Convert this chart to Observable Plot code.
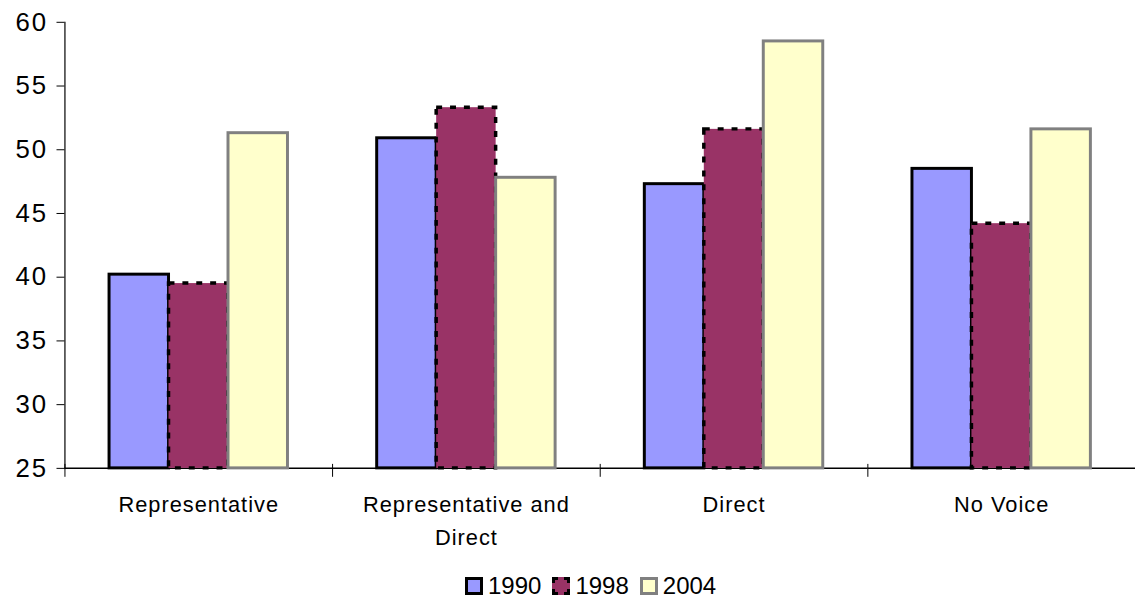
<!DOCTYPE html>
<html>
<head>
<meta charset="utf-8">
<script src="https://cdn.jsdelivr.net/npm/d3@7"></script>
<script src="https://cdn.jsdelivr.net/npm/@observablehq/plot@0.6"></script>
<style>
  html, body { margin: 0; padding: 0; background: #fff; }
  #wrap { width: 1136px; height: 601px; overflow: hidden; position: relative; font-family: "Liberation Sans", Arial, sans-serif; }
  #chart svg g[aria-label="fx-axis tick label"] text { font-size: 22px !important; letter-spacing: 1px; }
  #chart svg g[aria-label="y-axis tick label"] text { font-size: 26px !important; letter-spacing: 2px; }
  .legend { display: flex; align-items: center; padding-left: 465px; padding-top: 6px; height: 30px; font-size: 24px; color: #000; }
  .legend .item { display: flex; align-items: center; margin-right: 11px; }
  .legend .sw { width: 12px; height: 12px; margin-right: 5px; }
</style>
</head>
<body>
<div id="wrap">
  <div id="chart"></div>
  <div class="legend" id="legend"></div>
</div>
<script>
// Share of respondents by form of employee voice, three survey waves
const categories = ["Representative", "Representative and Direct", "Direct", "No Voice"];
const years = ["1990", "1998", "2004"];
const values1990 = [40.2, 50.9, 47.3, 48.5];
const values1998 = [39.5, 53.3, 51.6, 44.2];
const values2004 = [51.3, 47.8, 58.5, 51.6];
const yTicks = [25, 30, 35, 40, 45, 50, 55, 60];
const baseline = 25;

// Category labels as they wrap under the axis
const categoryLabels = {
  "Representative": "Representative",
  "Representative and Direct": "Representative and\nDirect",
  "Direct": "Direct",
  "No Voice": "No Voice"
};

// Bar look per survey year
const yearStyle = {
  "1990": {fill: "#9999ff", stroke: "#000000", dash: null},
  "1998": {fill: "#993366", stroke: "#000000", dash: "6,8"},
  "2004": {fill: "#ffffcc", stroke: "#808080", dash: null}
};

const series = [values1990, values1998, values2004];
const rows = categories.flatMap((category, i) =>
  years.map((year, j) => ({category, year, value: series[j][i]}))
);

const bars = years.map(year => Plot.barY(rows.filter(d => d.year === year), {
  fx: "category",
  x: "year",
  y1: baseline,
  y2: "value",
  fill: yearStyle[year].fill,
  stroke: yearStyle[year].stroke,
  strokeWidth: yearStyle[year].dash ? 3.5 : 3,
  strokeDasharray: yearStyle[year].dash
}));

const chart = Plot.plot({
  width: 1146,
  height: 570,
  marginTop: 22,
  marginLeft: 63,
  marginRight: 0,
  marginBottom: 98,
  style: {fontFamily: "'Liberation Sans', Arial, sans-serif", background: "#fff", color: "#000"},
  fx: {domain: categories, padding: 0, label: null},
  x: {domain: years, paddingInner: 0, paddingOuter: 0.75, axis: null},
  y: {domain: [25, 60], label: null},
  marks: [
    Plot.ruleY([baseline], {stroke: "#000", strokeWidth: 1.5}),
    Plot.frame({anchor: "left", facetAnchor: "left", stroke: "#000", strokeWidth: 1.2}),
    Plot.frame({anchor: "left", insetTop: 446, insetBottom: -8, stroke: "#000", strokeWidth: 1}),
    ...bars,
    Plot.axisY({ticks: yTicks, tickSize: 8, tickPadding: 9, fontSize: 26, label: null, stroke: "#000"}),
    Plot.axisFx({anchor: "bottom", tickSize: 0, tickPadding: 21, fontSize: 22, lineHeight: 1.5,
      label: null, tickFormat: d => categoryLabels[d]})
  ]
});
document.getElementById("chart").appendChild(chart);

// Legend below the chart
const legend = document.getElementById("legend");
for (const year of years) {
  const s = yearStyle[year];
  const item = document.createElement("div");
  item.className = "item";
  const sw = document.createElement("span");
  sw.className = "sw";
  sw.style.background = s.fill;
  sw.style.border = `3px ${s.dash ? "dashed" : "solid"} ${s.stroke}`;
  const label = document.createElement("span");
  label.textContent = year;
  item.appendChild(sw);
  item.appendChild(label);
  legend.appendChild(item);
}
</script>
</body>
</html>
